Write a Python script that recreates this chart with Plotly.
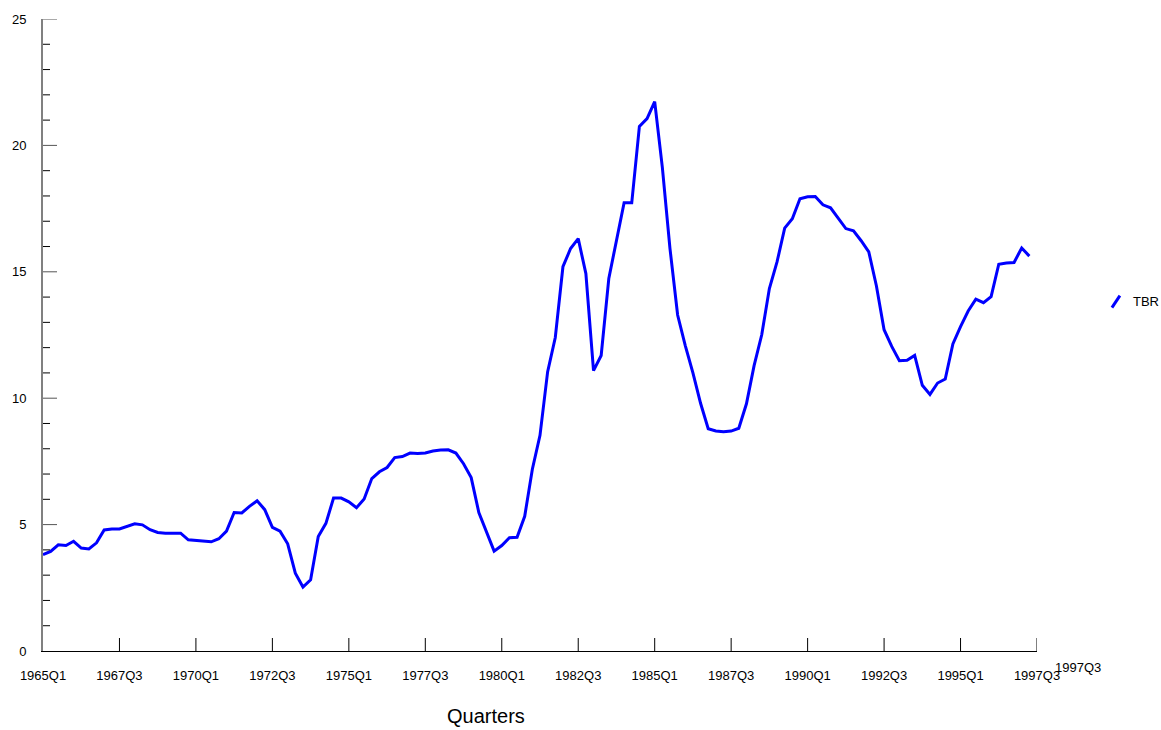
import plotly.graph_objects as go

# Quarterly series, 1965Q1 .. 1997Q2
SERIES_NAME = "TBR"
START_YEAR = 1965
TBR = [3.81, 3.94, 4.20, 4.17, 4.34, 4.07, 4.04, 4.28, 4.79, 4.83,
       4.83, 4.93, 5.03, 4.99, 4.80, 4.69, 4.66, 4.66, 4.66, 4.40,
       4.37, 4.34, 4.32, 4.44, 4.74, 5.48, 5.46, 5.72, 5.94, 5.59,
       4.89, 4.74, 4.24, 3.08, 2.53, 2.82, 4.53, 5.05, 6.05, 6.05,
       5.90, 5.67, 6.01, 6.82, 7.09, 7.26, 7.65, 7.69, 7.83, 7.81,
       7.83, 7.91, 7.95, 7.96, 7.83, 7.41, 6.86, 5.48, 4.70, 3.95,
       4.17, 4.48, 4.50, 5.33, 7.19, 8.53, 11.05, 12.40, 15.20, 15.92,
       16.31, 14.93, 11.09, 11.69, 14.74, 16.25, 17.73, 17.73, 20.75, 21.06,
       21.73, 19.13, 15.92, 13.29, 12.08, 11.00, 9.80, 8.79, 8.70, 8.67,
       8.70, 8.81, 9.78, 11.29, 12.51, 14.34, 15.39, 16.73, 17.10, 17.89,
       17.97, 17.98, 17.65, 17.53, 17.13, 16.71, 16.62, 16.23, 15.79, 14.44,
       12.71, 12.05, 11.48, 11.50, 11.69, 10.51, 10.15, 10.60, 10.76, 12.15,
       12.83, 13.45, 13.92, 13.78, 14.02, 15.30, 15.35, 15.37, 15.94, 15.62]

QUARTERS = [f"{START_YEAR + i // 4}Q{i % 4 + 1}" for i in range(len(TBR))]

X_TICK_VALS = [0, 10, 20, 30, 40, 50, 60, 70, 80, 90, 100, 110, 120, 130]
X_TICK_LABELS = ["1965Q1", "1967Q3", "1970Q1", "1972Q3", "1975Q1", "1977Q3",
                 "1980Q1", "1982Q3", "1985Q1", "1987Q3", "1990Q1", "1992Q3",
                 "1995Q1", "1997Q3"]
Y_MAJOR = [0, 5, 10, 15, 20, 25]
Y_MINOR = [v for v in range(1, 25) if v % 5]

FONT = "Liberation Sans, Arial, sans-serif"
LINE_BLUE = "#0000ff"

fig = go.Figure()
fig.add_trace(go.Scatter(
    x=list(range(len(TBR))), y=TBR, mode="lines", name=SERIES_NAME,
    text=QUARTERS, hovertemplate="%{text}: %{y}<extra></extra>",
    line=dict(color=LINE_BLUE, width=3), showlegend=False,
))

shapes = []
# y-axis tick marks crossing the axis line
for v in Y_MAJOR[1:]:
    shapes.append(dict(type="line", xref="x", yref="y", xsizemode="pixel", xanchor=0,
                       x0=-14, x1=14, y0=v, y1=v, line=dict(color="#555555", width=1)))
for v in Y_MINOR:
    shapes.append(dict(type="line", xref="x", yref="y", xsizemode="pixel", xanchor=0,
                       x0=-7, x1=7, y0=v, y1=v, line=dict(color="#000000", width=1)))
# x-axis tick marks crossing the axis line
for v in X_TICK_VALS[1:]:
    shapes.append(dict(type="line", xref="x", yref="y", ysizemode="pixel", yanchor=0,
                       x0=v, x1=v, y0=-14, y1=13, line=dict(color="#000000", width=1)))
# legend key: short slanted stroke
shapes.append(dict(type="line", xref="paper", yref="paper",
                   x0=1.0754, x1=1.0834, y0=0.5433, y1=0.5622,
                   line=dict(color=LINE_BLUE, width=3)))

annotations = [
    dict(text=SERIES_NAME, xref="paper", yref="paper", x=1.0945, y=0.5528,
         xanchor="left", yanchor="middle", showarrow=False,
         font=dict(family=FONT, size=13, color="#000000")),
    dict(text="Quarters", xref="paper", yref="paper", x=0.446, y=0, yshift=-65,
         xanchor="center", yanchor="middle", showarrow=False,
         font=dict(family=FONT, size=20, color="#000000")),
    dict(text=X_TICK_LABELS[-1], xref="x", yref="paper", x=X_TICK_VALS[-1], y=0,
         xshift=41, yshift=-16, xanchor="center", yanchor="middle", showarrow=False,
         font=dict(family=FONT, size=13, color="#000000")),
]

fig.update_layout(
    width=1161, height=730,
    margin=dict(l=42, r=124, t=16, b=79),
    paper_bgcolor="white", plot_bgcolor="white",
    font=dict(family=FONT, size=13, color="#000000"),
    shapes=shapes, annotations=annotations,
    xaxis=dict(range=[0, 130], tickvals=X_TICK_VALS, ticktext=X_TICK_LABELS,
               showgrid=False, zeroline=False, showline=True, linecolor="#000000",
               linewidth=1, ticks="", ticklabelstandoff=12,
               tickfont=dict(family=FONT, size=13)),
    yaxis=dict(range=[0, 25], tickvals=Y_MAJOR, showgrid=False, zeroline=False,
               showline=True, linecolor="#808080", linewidth=2, ticks="",
               ticklabelstandoff=12, tickfont=dict(family=FONT, size=13)),
    hovermode="closest",
)

fig.write_html("out.html")
